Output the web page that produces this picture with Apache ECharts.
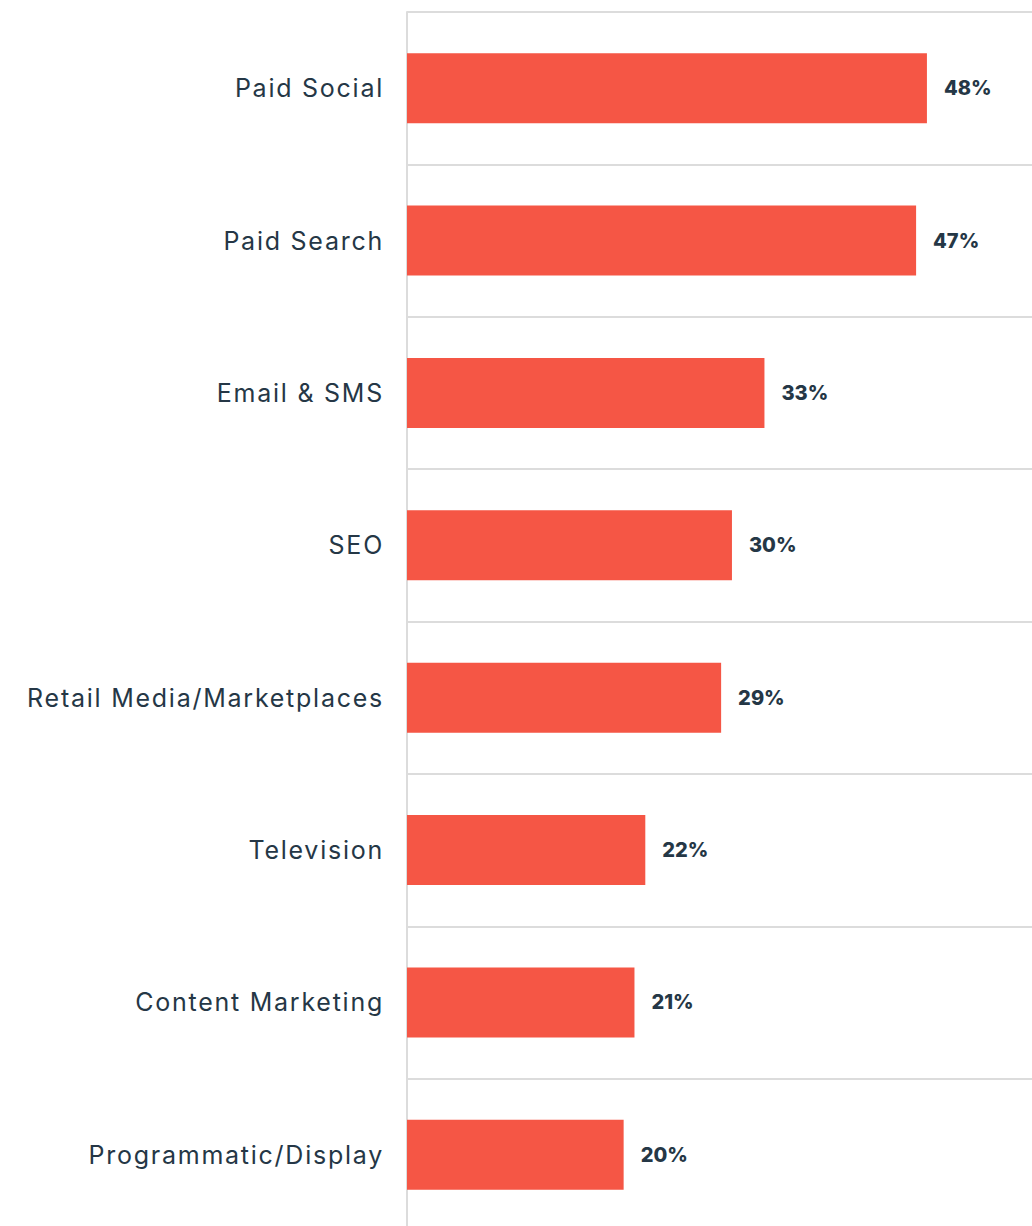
<!DOCTYPE html>
<html>
<head>
<meta charset="utf-8">
<script src="https://cdn.jsdelivr.net/npm/echarts@6/dist/echarts.min.js"></script>
<style>
  html, body { margin: 0; padding: 0; background: #fff; overflow: hidden; }
  #chart { width: 1032px; height: 1232px; }
  /* channel names are set with a little tracking */
  #chart svg text[text-anchor="end"] { letter-spacing: 1.75px; }
</style>
</head>
<body>
<div id="chart"></div>
<script>
// Marketing channels and share of respondents (%)
const channels = [
  'Paid Social',
  'Paid Search',
  'Email & SMS',
  'SEO',
  'Retail Media/Marketplaces',
  'Television',
  'Content Marketing',
  'Programmatic/Display'
];
const shares = [48, 47, 33, 30, 29, 22, 21, 20];

const chart = echarts.init(document.getElementById('chart'), null, { renderer: 'svg' });

chart.setOption({
  animation: false,
  backgroundColor: '#ffffff',
  grid: { left: 407, right: 0, top: 12, bottom: 1, containLabel: false },
  xAxis: {
    type: 'value',
    min: 0,
    max: 57.7,
    show: false
  },
  yAxis: {
    type: 'category',
    data: channels,
    inverse: true,
    boundaryGap: true,
    axisLine: { show: true, lineStyle: { color: '#dcdcdc', width: 2 } },
    axisTick: { show: false },
    splitLine: { show: true, lineStyle: { color: '#dcdcdc', width: 2 } },
    axisLabel: {
      margin: 23,
      color: '#253746',
      fontFamily: 'Inter',
      fontSize: 25,
      padding: [0, 0, 4, 0]
    }
  },
  series: [{
    type: 'bar',
    data: shares,
    barWidth: 70,
    itemStyle: { color: '#f55645' },
    label: {
      show: true,
      position: 'right',
      distance: 17,
      formatter: '{c}%',
      color: '#253746',
      fontFamily: 'Inter',
      fontWeight: 800,
      fontSize: 20,
      padding: [0, 0, 2, 0]
    }
  }]
});
</script>
</body>
</html>
